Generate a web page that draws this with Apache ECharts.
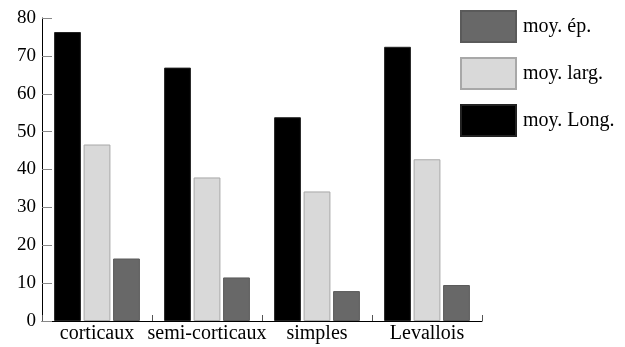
<!DOCTYPE html>
<html>
<head>
<meta charset="utf-8">
<script src="https://cdn.jsdelivr.net/npm/echarts@6/dist/echarts.min.js"></script>
<style>
  html, body { margin: 0; padding: 0; background: #fff; }
  #chart { width: 625px; height: 347px; }
</style>
</head>
<body>
<div id="chart"></div>
<script>
// Mean dimensions per flake type
const categories = ['corticaux', 'semi-corticaux', 'simples', 'Levallois'];
const moyLong = [76.3, 66.9, 53.8, 72.4];
const moyLarg = [46.6, 37.9, 34.2, 42.7];
const moyEp = [16.5, 11.5, 7.9, 9.5];
const yTicks = { min: 0, max: 80, step: 10 };

const serif = '"Liberation Serif", "DejaVu Serif", serif';

const chart = echarts.init(document.getElementById('chart'), null, { renderer: 'canvas' });
chart.setOption({
  animation: false,
  backgroundColor: '#ffffff',
  grid: { left: 42, right: 143, top: 18, bottom: 26, containLabel: false },
  legend: {
    orient: 'vertical',
    left: 460,
    top: 10,
    padding: 0,
    itemWidth: 55,
    itemHeight: 31,
    itemGap: 14,
    icon: 'rect',
    data: ['moy. ép.', 'moy. larg.', 'moy. Long.'],
    textStyle: { fontFamily: serif, fontSize: 20, color: '#000', padding: [0, 0, 0, 2] }
  },
  xAxis: {
    type: 'category',
    data: categories,
    axisLine: { show: true, lineStyle: { color: '#000', width: 1 } },
    axisTick: { show: true, inside: true, interval: 0, length: 6, lineStyle: { color: '#555' } },
    axisLabel: { interval: 0, fontFamily: serif, fontSize: 20, color: '#000', margin: 3 }
  },
  yAxis: {
    type: 'value',
    min: yTicks.min,
    max: yTicks.max,
    interval: yTicks.step,
    axisLine: { show: true, lineStyle: { color: '#000', width: 1 } },
    axisTick: { show: true, inside: true, length: 10, lineStyle: { color: '#888' } },
    axisLabel: { fontFamily: serif, fontSize: 19, color: '#000', margin: 6 },
    splitLine: { show: false }
  },
  series: [
    {
      name: 'moy. Long.', type: 'bar', data: moyLong,
      barCategoryGap: '22%', barGap: '10%',
      itemStyle: { color: '#000000', borderColor: '#222', borderWidth: 1 }
    },
    {
      name: 'moy. larg.', type: 'bar', data: moyLarg,
      barCategoryGap: '22%', barGap: '10%',
      itemStyle: { color: '#d9d9d9', borderColor: '#a8a8a8', borderWidth: 1 }
    },
    {
      name: 'moy. ép.', type: 'bar', data: moyEp,
      barCategoryGap: '22%', barGap: '10%',
      itemStyle: { color: '#686868', borderColor: '#5a5a5a', borderWidth: 1 }
    }
  ]
});
</script>
</body>
</html>
